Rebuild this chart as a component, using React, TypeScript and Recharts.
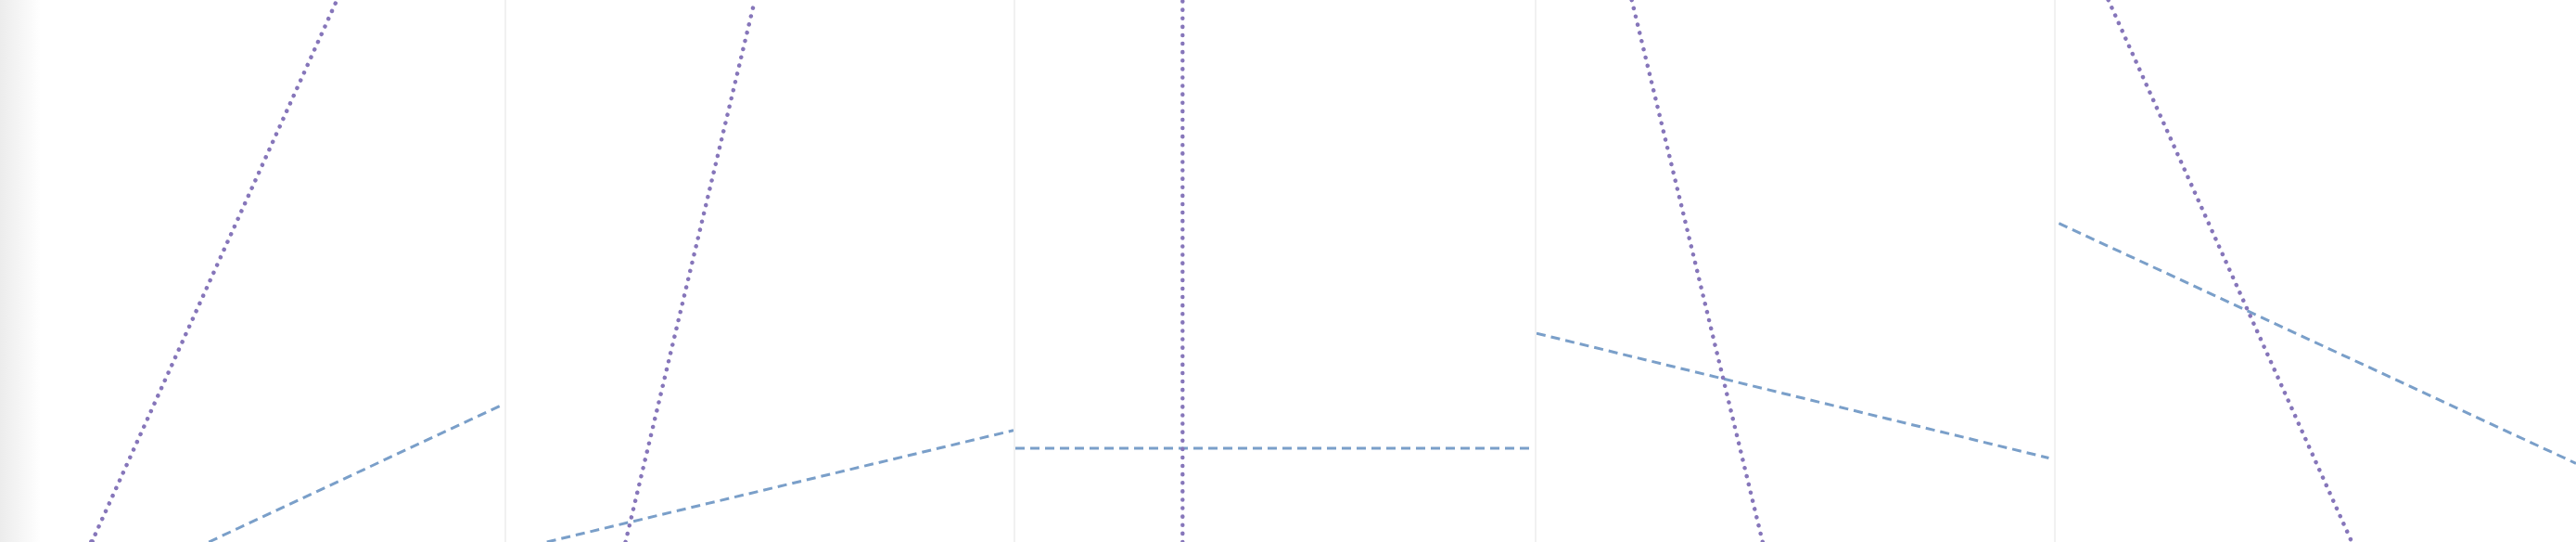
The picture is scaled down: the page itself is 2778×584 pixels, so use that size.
import React from "react";
import { LineChart, Line, XAxis, YAxis } from "recharts";

// Each panel: two straight lines given by their end points (x, y in 0..100 panel units)
const panelNames = ["A", "B", "C", "D", "E"];
const purpleLines = [
  [{ x: 18.2, y: 0 }, { x: 66.8, y: 100 }],
  [{ x: 23.5, y: 0 }, { x: 49.0, y: 100 }],
  [{ x: 32.2, y: 0 }, { x: 32.2, y: 100 }],
  [{ x: 18.4, y: 100 }, { x: 43.7, y: 0 }],
  [{ x: 10.1, y: 100 }, { x: 56.9, y: 0 }],
];
const blueLines = [
  [{ x: 41.4, y: 0 }, { x: 100, y: 25.5 }],
  [{ x: 8.0, y: 0 }, { x: 100, y: 20.6 }],
  [{ x: 0, y: 17.3 }, { x: 100, y: 17.3 }],
  [{ x: 0, y: 38.5 }, { x: 99, y: 15.5 }],
  [{ x: 0.6, y: 58.8 }, { x: 100, y: 14.5 }],
];

const edges = [0, 544, 1093, 1655, 2215, 2778];
const H = 584;

export default function App() {
  return (
    <div style={{ position: "fixed", left: 0, top: 0, width: 2778, height: H, background: "#fff", overflow: "hidden" }}>
      <div style={{ position: "absolute", left: 0, top: 0, width: 44, height: H, background: "linear-gradient(to right, #ececec, #ffffff)" }} />
      {panelNames.map((n, i) => {
        const w = edges[i + 1] - edges[i];
        return (
          <div key={n} style={{ position: "absolute", left: edges[i], top: 0, width: w, height: H, borderLeft: i > 0 ? "2px solid #f1f1f1" : "none", boxSizing: "border-box" }}>
            <LineChart width={w - (i > 0 ? 2 : 0)} height={H} margin={{ top: 0, right: 0, bottom: 0, left: 0 }}>
              <XAxis type="number" dataKey="x" domain={[0, 100]} hide />
              <YAxis type="number" dataKey="y" domain={[0, 100]} hide />
              <Line data={blueLines[i]} dataKey="y" stroke="#7a9fc9" strokeWidth={3} strokeDasharray="10 6" dot={false} isAnimationActive={false} />
              <Line data={purpleLines[i]} dataKey="y" stroke="#8676ba" strokeWidth={4.5} strokeDasharray="0.1 9" strokeLinecap="round" dot={false} isAnimationActive={false} />
            </LineChart>
          </div>
        );
      })}
    </div>
  );
}
